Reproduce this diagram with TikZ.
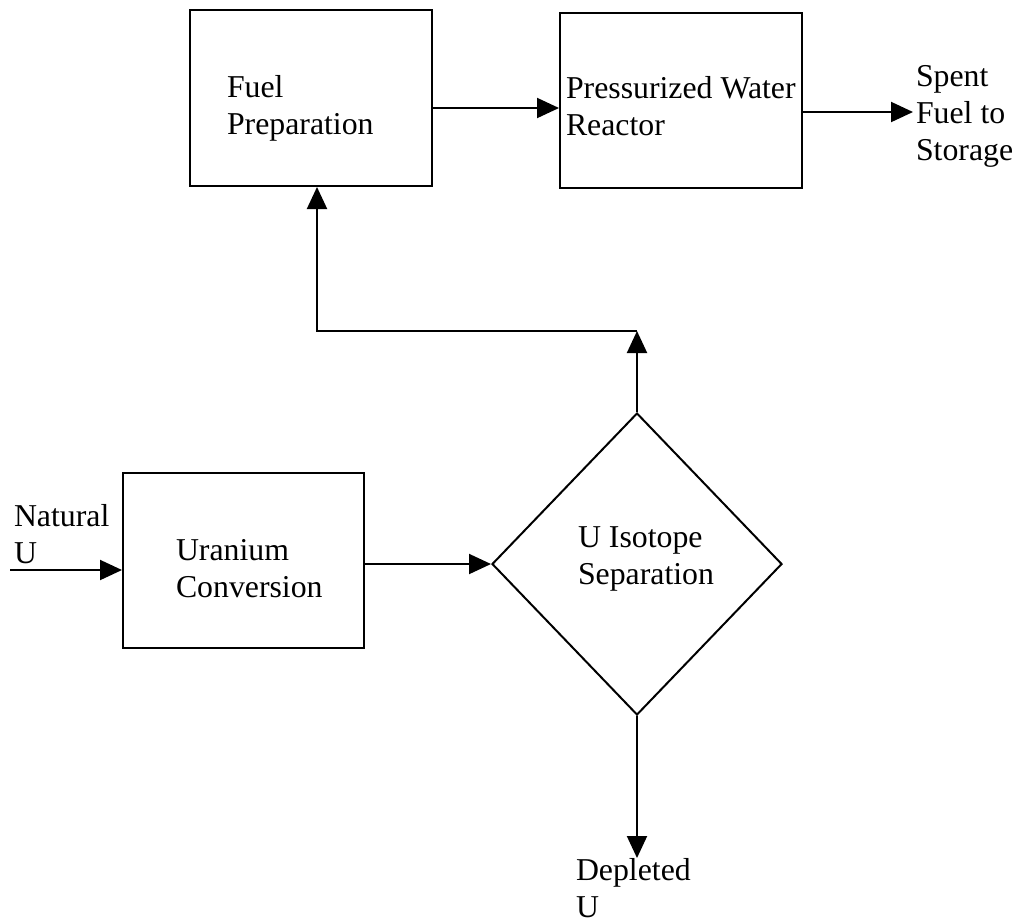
\documentclass[tikz,border=0pt]{standalone}
\usepackage{fontspec}
\setmainfont{Liberation Serif}
\usepackage{tikz}
\usetikzlibrary{arrows.meta,shapes.geometric}

\begin{document}
\begin{tikzpicture}[x=0.5pt,y=-0.5pt,line width=1pt,
  box/.style n args={2}{draw,rectangle,inner sep=0pt,minimum width=#1,minimum height=#2},
  lbl/.style={anchor=base west,align=left,inner sep=0pt,font=\fontsize{15.9}{18.5}\selectfont},
  arr/.style={-{Triangle[length=11pt,width=10pt]}}]
\useasboundingbox (0,0) rectangle (1017,923);
\node[box={121pt}{88pt}] (fuelprep) at (311,98) {};
\node[box={121pt}{87.5pt}] (reactor) at (681,100.5) {};
\node[box={120.5pt}{87.5pt}] (conv) at (243.5,560.5) {};
\node[draw,diamond,inner sep=0pt,minimum width=145pt,minimum height=151pt] (sep) at (637,564) {};
% labels, placed by the baseline of their last line
\foreach \nm/\x/\y/\txt in %
{fptxt/226/134/{Fuel\\Preparation},pwrtxt/565/135/{Pressurized Water\\Reactor},
 convtxt/175/597/{Uranium\\Conversion},septxt/577/584/{U Isotope\\Separation},
 spent/915/160/{Spent\\Fuel to\\Storage},natural/13/563/{Natural\\U},
 depleted/575/917/{Depleted\\U}} {
   \node[lbl] (\nm) at (\x,\y) {\txt};
}
\coordinate (natin) at (10,570);
\coordinate (spentin) at (913,112);
\coordinate (joint) at (637,331);
\coordinate (bend) at (317,331);
\coordinate (depin) at (637,858);
\draw[arr] (natin) -- (natin -| conv.west);
\draw[arr] (conv.east |- sep.west) -- (sep.west);
\draw[arr] (sep.north) -- (joint);
\draw[arr] (joint) -- (bend) -- (bend |- fuelprep.south);
\draw[arr] (fuelprep.east |- 0,108) -- (reactor.west |- 0,108);
\draw[arr] (reactor.east |- spentin) -- (spentin);
\draw[arr] (sep.south) -- (depin);
\end{tikzpicture}
\end{document}
